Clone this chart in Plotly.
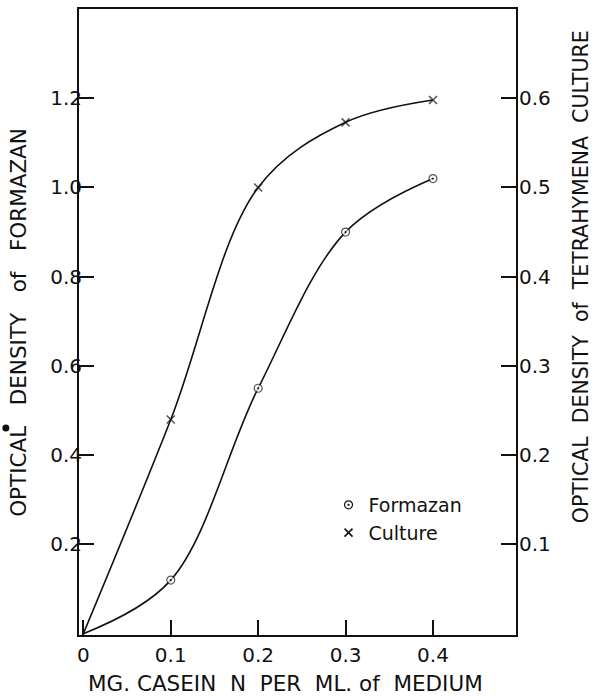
import plotly.graph_objects as go

# Data
casein_n = [0.0, 0.1, 0.2, 0.3, 0.4]              # mg casein N per ml of medium
formazan_od = [0.0, 0.12, 0.55, 0.90, 1.02]       # left axis
culture_od = [0.0, 0.24, 0.50, 0.573, 0.598]      # right axis

x_ticks = [0, 0.1, 0.2, 0.3, 0.4]
x_ticktext = ["0", "0.1", "0.2", "0.3", "0.4"]
left_ticks = [0.2, 0.4, 0.6, 0.8, 1.0, 1.2]
left_ticktext = ["0.2", "0.4", "0.6", "0.8", "1.0", "1.2"]
right_ticks = [0.1, 0.2, 0.3, 0.4, 0.5, 0.6]
right_ticktext = ["0.1", "0.2", "0.3", "0.4", "0.5", "0.6"]

x_title = "MG. CASEIN  N  PER  ML. of  MEDIUM"
left_title = "OPTICAL   DENSITY   of   FORMAZAN"
right_title = "OPTICAL  DENSITY  of  TETRAHYMENA  CULTURE"

FONT = "DejaVu Sans"
INK = "#111111"

fig = go.Figure()

fig.add_trace(go.Scatter(
    x=casein_n, y=formazan_od, mode="lines+markers",
    line=dict(color=INK, width=1.6, shape="spline", smoothing=1.0),
    marker=dict(symbol="circle-dot", size=[0, 8, 8, 8, 8], color="white",
                line=dict(color=INK, width=1.2)),
    showlegend=False, yaxis="y", cliponaxis=False,
))
fig.add_trace(go.Scatter(
    x=casein_n, y=culture_od, mode="lines+markers",
    line=dict(color=INK, width=1.6, shape="spline", smoothing=1.0),
    marker=dict(symbol="x-thin", size=[0, 8, 8, 8, 8], color=INK,
                line=dict(color=INK, width=1.6)),
    showlegend=False, yaxis="y2", cliponaxis=False,
))

# legend entries (markers only)
fig.add_trace(go.Scatter(
    x=[None], y=[None], mode="markers", name="Formazan",
    marker=dict(symbol="circle-dot", size=8, color="white",
                line=dict(color=INK, width=1.2)),
))
fig.add_trace(go.Scatter(
    x=[None], y=[None], mode="markers", name="Culture",
    marker=dict(symbol="x-thin", size=8, color=INK, line=dict(color=INK, width=1.6)),
))

axis_common = dict(
    showgrid=False, zeroline=False, showline=True, linecolor=INK, linewidth=2,
    ticks="inside", ticklen=15, tickwidth=1.5, tickcolor=INK, automargin=False,
    tickfont=dict(family=FONT, size=20, color=INK),
)

fig.update_layout(
    width=594, height=696,
    margin=dict(l=79, r=78, t=9, b=61),
    paper_bgcolor="white", plot_bgcolor="white",
    font=dict(family=FONT, color=INK),
    xaxis=dict(
        **axis_common, range=[-0.005, 0.495], tickvals=x_ticks, ticktext=x_ticktext,
        mirror=True, ticklabelstandoff=1,
    ),
    yaxis=dict(
        **axis_common, range=[-0.003, 1.40], tickvals=left_ticks, ticktext=left_ticktext,
        ticklabelstandoff=-9,
    ),
    yaxis2=dict(
        **axis_common, range=[-0.0015, 0.70], tickvals=right_ticks, ticktext=right_ticktext,
        overlaying="y", side="right", ticklabelstandoff=-3,
    ),
    legend=dict(
        x=0.571, y=0.238, xanchor="left", yanchor="top",
        bgcolor="rgba(0,0,0,0)", borderwidth=0,
        font=dict(family=FONT, size=19, color=INK),
        itemwidth=30, tracegroupgap=0,
    ),
    annotations=[
        dict(text=x_title, xref="paper", yref="paper",
             x=(285 - 79) / 436, y=-(683 - 635) / 626,
             xanchor="center", yanchor="middle", showarrow=False,
             font=dict(family=FONT, size=21.5, color=INK)),
        dict(text=left_title, xref="paper", yref="paper", textangle=-90,
             x=(18 - 79) / 436, y=(635 - 322) / 626,
             xanchor="center", yanchor="middle", showarrow=False,
             font=dict(family=FONT, size=21.5, color=INK)),
        dict(text=right_title, xref="paper", yref="paper", textangle=-90,
             x=(580 - 79) / 436, y=(635 - 277) / 626,
             xanchor="center", yanchor="middle", showarrow=False,
             font=dict(family=FONT, size=20.5, color=INK)),
    ],
    shapes=[dict(type="circle", xref="paper", yref="paper",
                 xsizemode="pixel", ysizemode="pixel",
                 xanchor=(6 - 79) / 436, yanchor=(635 - 428) / 626,
                 x0=-3.5, x1=3.5, y0=-3.5, y1=3.5,
                 fillcolor=INK, line=dict(width=0))],
)

fig.write_html(
    "out.html",
    config={"displayModeBar": False},
    post_script="document.body.style.margin='0';document.body.style.overflow='hidden';",
)
